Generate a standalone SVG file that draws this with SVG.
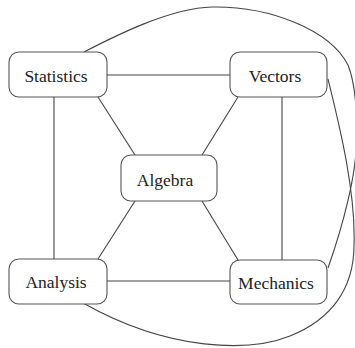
<svg xmlns="http://www.w3.org/2000/svg" width="355" height="348" viewBox="0 0 355 348">
<style>
.box{fill:#fff;stroke:#555;stroke-width:1.1}
.lbl{font-family:"Liberation Serif","Times New Roman",serif;font-size:17.5px;fill:#222;text-anchor:middle}
.e{fill:none;stroke:#444;stroke-width:1.1}
</style>
<rect width="355" height="348" fill="#fff"/>
<g id="connectors">
<line class="e" x1="107" y1="75" x2="230" y2="75"/>
<line class="e" x1="54" y1="97" x2="54" y2="259"/>
<line class="e" x1="282" y1="97" x2="282" y2="260"/>
<line class="e" x1="107" y1="281" x2="230" y2="281"/>
<line class="e" x1="98" y1="97" x2="135" y2="155"/>
<line class="e" x1="238" y1="97" x2="202" y2="155"/>
<line class="e" x1="98" y1="259" x2="135" y2="201"/>
<line class="e" x1="238" y1="260" x2="202" y2="201"/>
<path class="e" d="M84,52 C115,36 170,8 212,7 C270,6 330,30 348,65 C356,85 358,120 356,150 C355,175 345,220 328,268"/>
<path class="e" d="M328,79 C338,120 356,190 354,245 C354,290 330,320 290,336 C250,352 170,352 83,303"/>
</g>
<g id="statistics"><rect class="box" x="9" y="52" width="98" height="45" rx="10"/><text class="lbl" x="56" y="82">Statistics</text></g>
<g id="vectors"><rect class="box" x="230" y="52" width="97" height="45" rx="10"/><text class="lbl" x="275" y="82">Vectors</text></g>
<g id="algebra"><rect class="box" x="121" y="155" width="96" height="46" rx="10"/><text class="lbl" x="165" y="186">Algebra</text></g>
<g id="analysis"><rect class="box" x="9" y="259" width="98" height="45" rx="10"/><text class="lbl" x="56" y="288">Analysis</text></g>
<g id="mechanics"><rect class="box" x="230" y="260" width="97" height="44" rx="10"/><text class="lbl" x="276" y="289">Mechanics</text></g>
</svg>
